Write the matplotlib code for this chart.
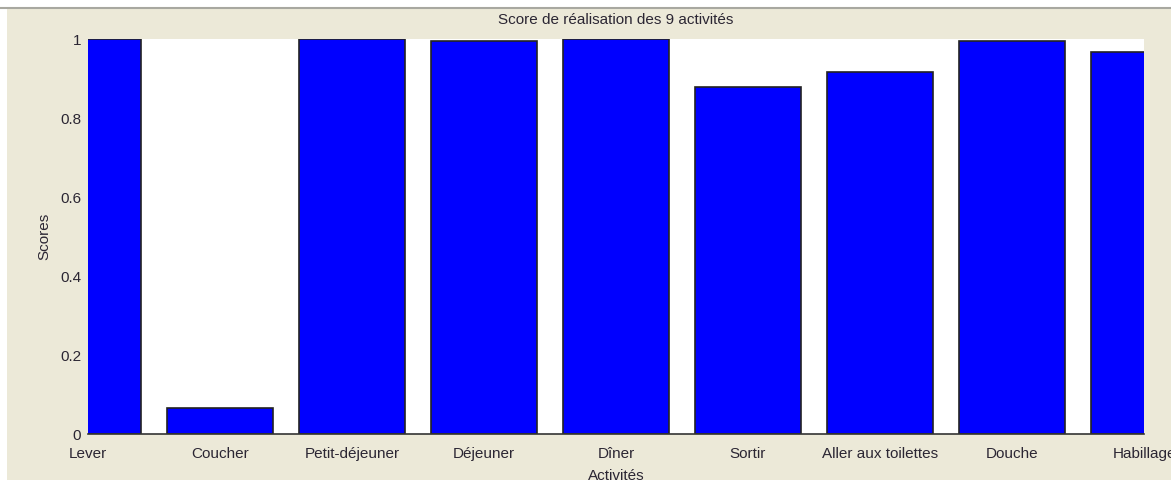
import matplotlib
matplotlib.use("Agg")
import matplotlib.pyplot as plt
from matplotlib.patches import Rectangle
from matplotlib.lines import Line2D

activites = ["Lever", "Coucher", "Petit-déjeuner", "Déjeuner", "Dîner",
             "Sortir", "Aller aux toilettes", "Douche", "Habillage"]
scores = [1.0, 0.065, 1.0, 0.997, 1.0, 0.880, 0.918, 0.996, 0.969]
yticks = [0, 0.2, 0.4, 0.6, 0.8, 1]
ytick_labels = ["0", "0.2", "0.4", "0.6", "0.8", "1"]

W, H = 1171, 486
txt_color = "#2b2633"
fs = 11
plt.rcParams["font.family"] = ["Liberation Sans", "DejaVu Sans"]

fig = plt.figure(figsize=(W / 100, H / 100), dpi=100, facecolor="white")

# beige window panel + thin grey line on top (kept behind the axes)
fig.patches.append(Rectangle((7 / W, 6 / H), 1 - 7 / W, (H - 15) / H,
                             transform=fig.transFigure, facecolor="#ece9d8",
                             edgecolor="none", zorder=-10))
fig.lines.append(Line2D([0, 1], [(H - 8) / H, (H - 8) / H], transform=fig.transFigure,
                        color="#a8a8a0", linewidth=1.5, zorder=-9))

ax = fig.add_axes([88 / W, (H - 434) / H, (1144 - 88) / W, (434 - 39.5) / H])
ax.set_facecolor("white")

x = list(range(1, len(activites) + 1))
ax.bar(x, scores, width=0.8, color="#0000ff", edgecolor="#222222", linewidth=1.2)

ax.set_xlim(1, 9)
ax.set_ylim(0, 1)
ax.set_xticks(x)
ax.set_xticklabels(activites)
ax.set_yticks(yticks)
ax.set_yticklabels(ytick_labels)
ax.tick_params(length=0, labelsize=fs, colors=txt_color, pad=5)
ax.tick_params(axis="x", pad=9)

for s in ["top", "right", "left"]:
    ax.spines[s].set_visible(False)
ax.spines["bottom"].set_color("#333333")
ax.spines["bottom"].set_linewidth(1.2)

ax.set_title("Score de réalisation des 9 activités", fontsize=fs, color=txt_color,
             y=1.05, va="center", pad=0)
ax.set_xlabel("Activités", fontsize=fs, color=txt_color)
ax.xaxis.set_label_coords(0.5, -0.107)
ax.xaxis.label.set_va("center")
ax.set_ylabel("Scores", fontsize=fs, color=txt_color)
ax.yaxis.set_label_coords(-0.041, 0.5)
ax.yaxis.label.set_va("center")

fig.savefig("out.png", dpi=100, facecolor="white")
